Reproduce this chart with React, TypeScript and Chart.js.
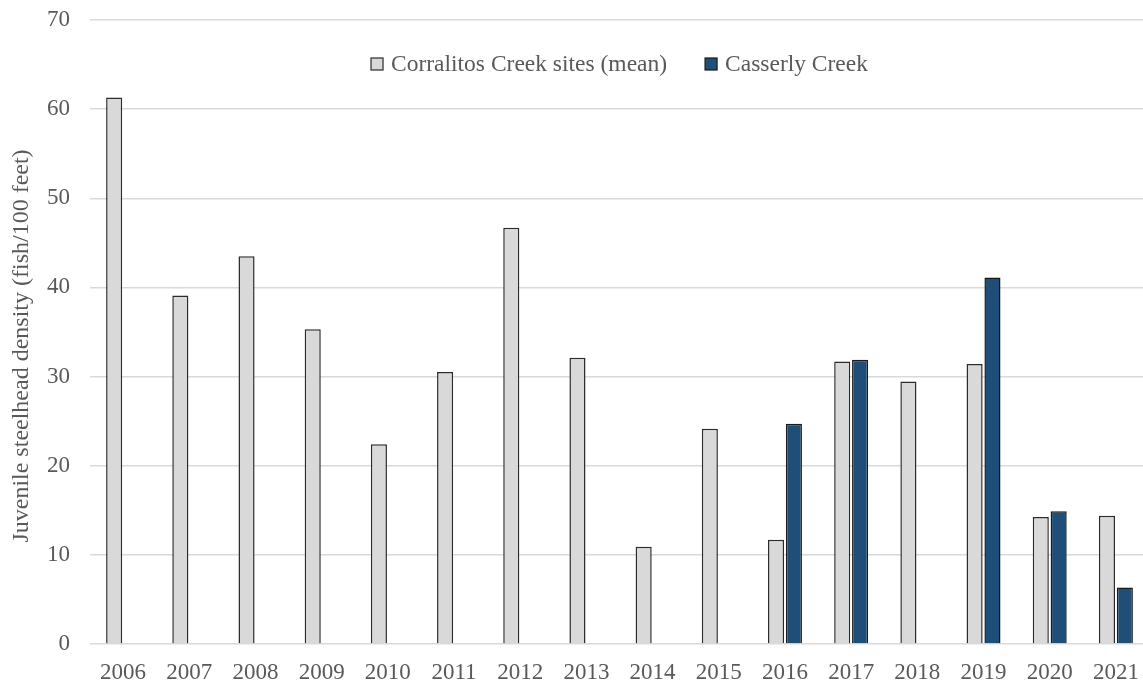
import React, { useEffect, useRef } from "react";
import { Chart, registerables } from "chart.js";

Chart.register(...registerables);

const years = ["2006", "2007", "2008", "2009", "2010", "2011", "2012", "2013", "2014", "2015", "2016", "2017", "2018", "2019", "2020", "2021"];
const corralitos = [61.3, 39.1, 43.5, 35.3, 22.4, 30.5, 46.7, 32.1, 10.9, 24.15, 11.7, 31.7, 29.45, 31.4, 14.25, 14.4];
const casserly = [null, null, null, null, null, null, null, null, null, null, 24.7, 31.9, null, 41.1, 14.9, 6.35];
const yTicks = [0, 10, 20, 30, 40, 50, 60, 70];
const yTitle = "Juvenile steelhead density (fish/100 feet)";

const FONT = "'Liberation Serif', 'Times New Roman', serif";
const GRAY = "#595959";

const decorPlugin = {
  id: "decor",
  afterDraw(chart: any) {
    const ctx = chart.ctx;
    const area = chart.chartArea;
    const items = chart.data.datasets.map((d: any) => ({ label: d.label, fill: d.backgroundColor, stroke: d.borderColor }));
    ctx.save();
    ctx.font = `23.5px ${FONT}`;
    const box = 12;
    const gapText = 8;
    const gapItem = 38;
    const widths = items.map((it: any) => box + gapText + ctx.measureText(it.label).width);
    const total = widths.reduce((a: number, b: number) => a + b, 0) + gapItem * (items.length - 1);
    let x = (area.left + area.right) / 2 - total / 2;
    const y = area.top + 44;
    items.forEach((it: any, i: number) => {
      ctx.fillStyle = it.fill;
      ctx.strokeStyle = it.stroke;
      ctx.lineWidth = 1.2;
      ctx.fillRect(x, y - box / 2, box, box);
      ctx.strokeRect(x, y - box / 2, box, box);
      ctx.fillStyle = GRAY;
      ctx.textBaseline = "middle";
      ctx.textAlign = "left";
      ctx.fillText(it.label, x + box + gapText, y + 1);
      x += widths[i] + gapItem;
    });
    ctx.restore();

    // y-axis title
    ctx.save();
    ctx.font = `24px ${FONT}`;
    ctx.fillStyle = GRAY;
    ctx.translate(22, (area.top + area.bottom) / 2 + 14);
    ctx.rotate(-Math.PI / 2);
    ctx.textAlign = "center";
    ctx.textBaseline = "middle";
    ctx.fillText(yTitle, 0, 0);
    ctx.restore();
  },
};

export default function App() {
  const ref = useRef<HTMLCanvasElement | null>(null);
  useEffect(() => {
    if (!ref.current) return;
    const chart = new Chart(ref.current, {
      type: "bar",
      data: {
        labels: years,
        datasets: [
          {
            label: "Corralitos Creek sites (mean)",
            data: corralitos,
            backgroundColor: "#d9d9d9",
            borderColor: "#2b2b2b",
            borderWidth: 1.5,
            barPercentage: 0.9,
            categoryPercentage: 0.54,
          },
          {
            label: "Casserly Creek",
            data: casserly as any,
            backgroundColor: "#1f4e79",
            borderColor: "#1a1a1a",
            borderWidth: 1.5,
            barPercentage: 0.9,
            categoryPercentage: 0.54,
          },
        ],
      },
      options: {
        animation: false,
        responsive: true,
        maintainAspectRatio: false,
        layout: { padding: { top: 20, right: 1, bottom: 0, left: 0 } },
        plugins: {
          tooltip: { enabled: false },
          legend: { display: false },
        },
        scales: {
          x: {
            grid: { display: false, drawTicks: false },
            border: { display: false },
            afterFit: (s: any) => {
              s.height = 38;
              s.paddingLeft = 0;
              s.paddingRight = 0;
            },
            ticks: { font: { family: FONT, size: 23, lineHeight: 1 }, color: GRAY, padding: 17, maxRotation: 0, autoSkip: false },
          },
          y: {
            min: 0,
            max: 70,
            afterBuildTicks: (s: any) => {
              s.ticks = yTicks.map((v) => ({ value: v }));
            },
            afterFit: (s: any) => {
              s.width = 90;
              s.paddingTop = 0;
              s.paddingBottom = 0;
            },
            grid: { color: "#d9d9d9", lineWidth: 1.5, drawTicks: false },
            border: { display: false },
            ticks: { font: { family: FONT, size: 23 }, color: GRAY, padding: 20 },
          },
        },
      },
      plugins: [decorPlugin],
    });
    return () => chart.destroy();
  }, []);
  return (
    <div style={{ position: "fixed", left: 0, top: 0, width: 1150, height: 682, background: "#fff" }}>
      <canvas ref={ref} />
    </div>
  );
}
